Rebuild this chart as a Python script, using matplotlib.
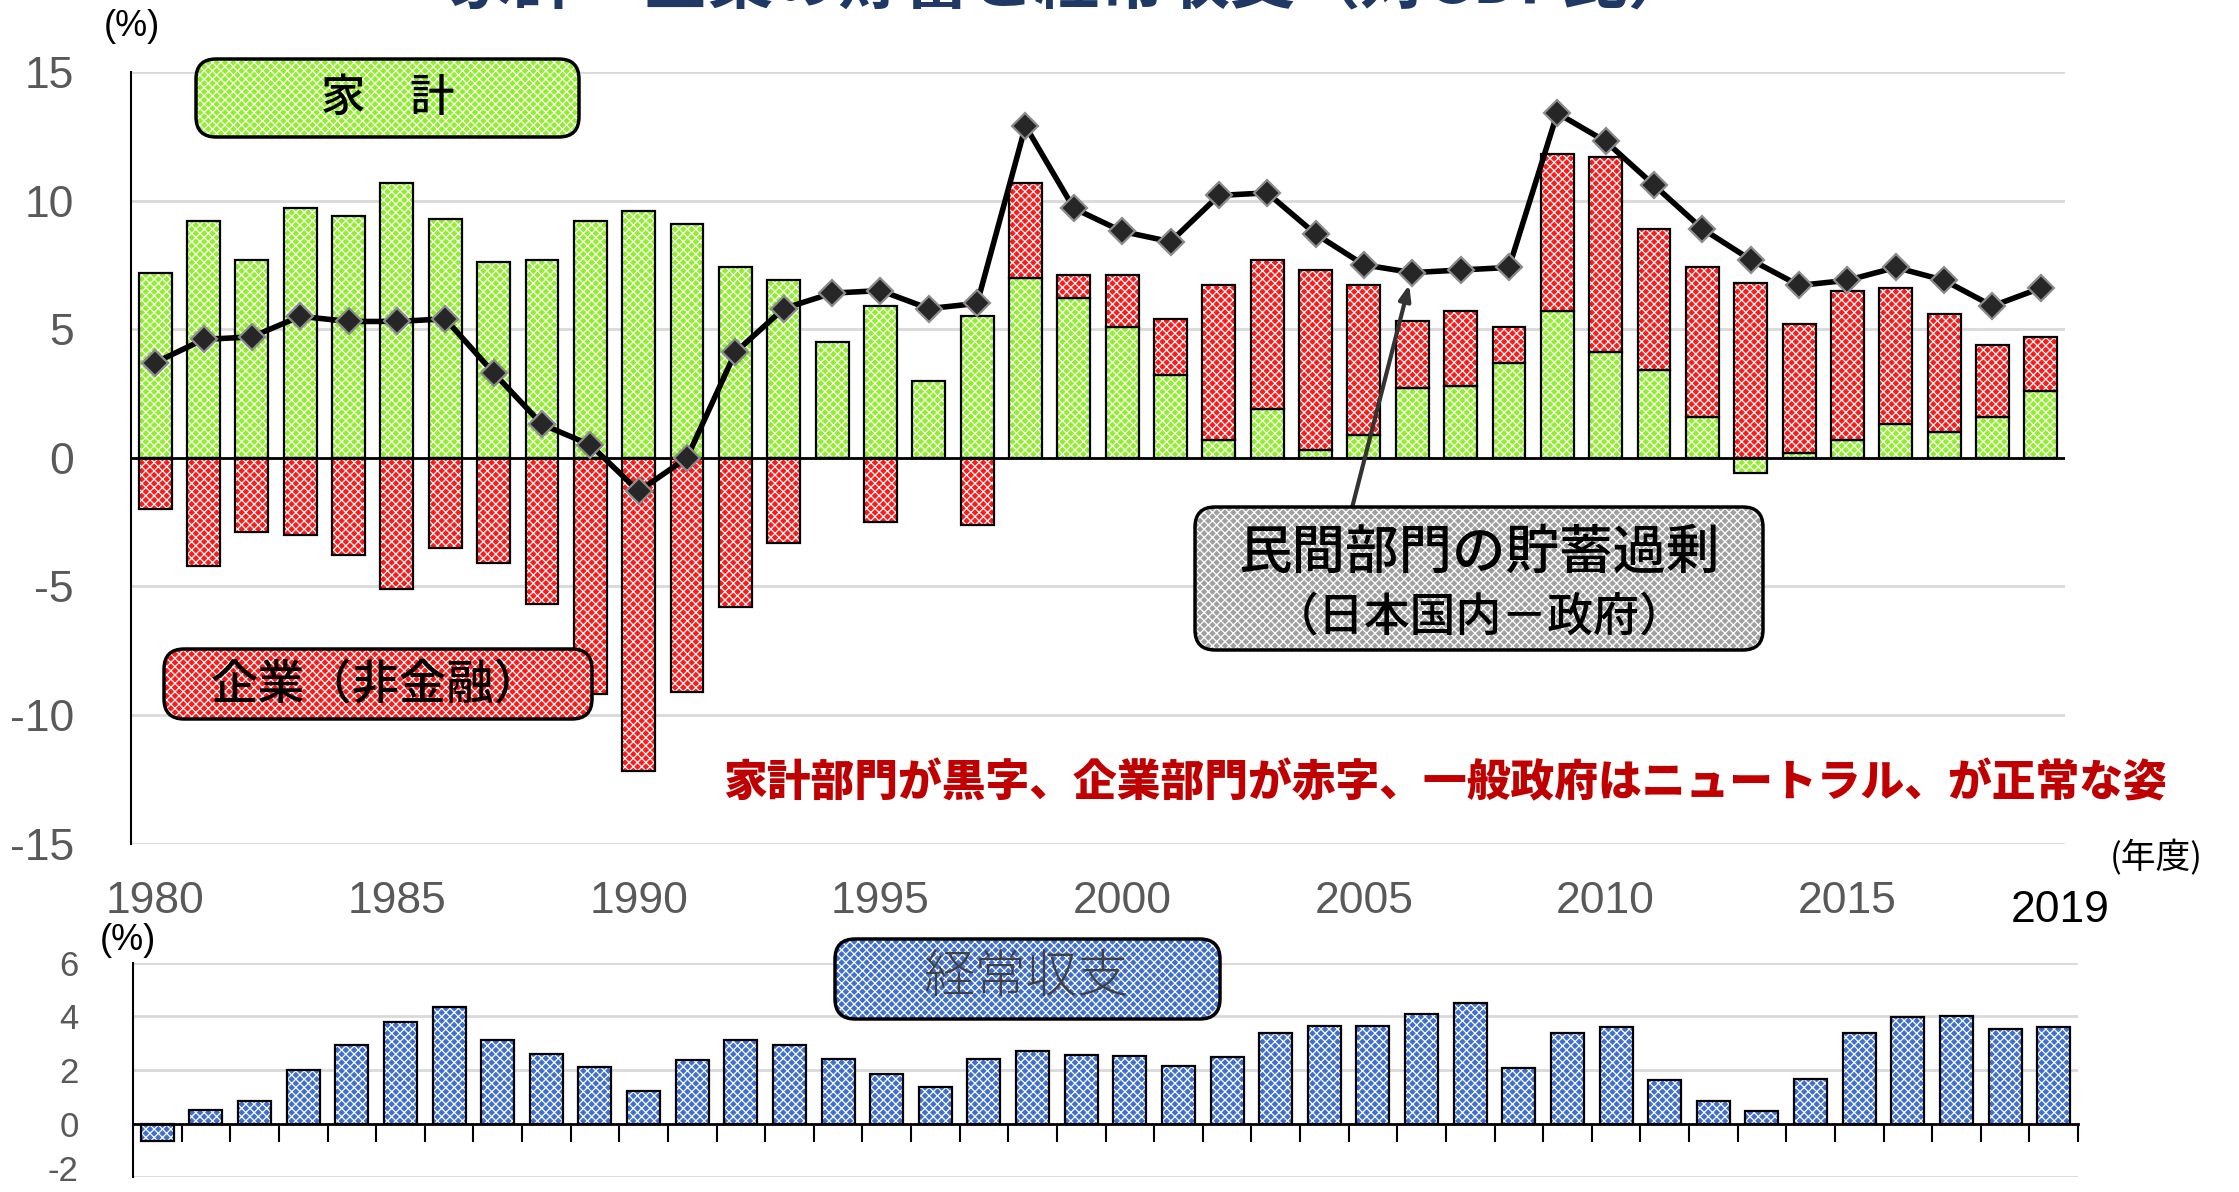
# Household / corporate saving surplus and current account (% of GDP), FY1980-2019
# Rebuilt from the reference picture.

import numpy as np
import matplotlib
matplotlib.use("Agg")
import matplotlib.pyplot as plt
from matplotlib.patches import FancyBboxPatch

# data
years = list(range(1980, 2020))
household = [7.2, 9.2, 7.7, 9.7, 9.4, 10.7, 9.3, 7.6, 7.7, 9.2,
             9.6, 9.1, 7.4, 6.9, 4.5, 5.9, 3.0, 5.5, 7.0, 6.2,
             5.1, 3.2, 0.7, 1.9, 0.3, 0.9, 2.7, 2.8, 3.7, 5.7,
             4.1, 3.4, 1.6, -0.6, 0.2, 0.7, 1.3, 1.0, 1.6, 2.6]
corporate = [-2.0, -4.2, -2.9, -3.0, -3.8, -5.1, -3.5, -4.1, -5.7, -9.2,
             -12.2, -9.1, -5.8, -3.3, 0.0, -2.5, 0.0, -2.6, 3.7, 0.9,
             2.0, 2.2, 6.0, 5.8, 7.0, 5.8, 2.6, 2.9, 1.4, 6.1,
             7.6, 5.5, 5.8, 6.8, 5.0, 5.8, 5.3, 4.6, 2.8, 2.1]
private_surplus = [3.7, 4.6, 4.7, 5.5, 5.3, 5.3, 5.4, 3.3, 1.3, 0.5,
                   -1.3, 0.0, 4.1, 5.8, 6.4, 6.5, 5.8, 6.0, 12.9, 9.7,
                   8.8, 8.4, 10.2, 10.3, 8.7, 7.5, 7.2, 7.3, 7.4, 13.4,
                   12.3, 10.6, 8.9, 7.7, 6.7, 6.9, 7.4, 6.9, 5.9, 6.6]
current_account = [-0.65, 0.52, 0.85, 2.0, 2.95, 3.8, 4.35, 3.13, 2.58, 2.12,
                   1.23, 2.39, 3.11, 2.95, 2.42, 1.84, 1.36, 2.42, 2.69, 2.57,
                   2.52, 2.15, 2.50, 3.39, 3.64, 3.64, 4.08, 4.51, 2.07, 3.37,
                   3.61, 1.63, 0.85, 0.47, 1.66, 3.39, 3.97, 4.02, 3.52, 3.59]
tick_years = [1980, 1985, 1990, 1995, 2000, 2005, 2010, 2015]
top_yticks = [-15, -10, -5, 0, 5, 10, 15]
bottom_yticks = [-2, 0, 2, 4, 6]

# colours
green = "#8FEF2A"
red = "#FF1A1A"
blue = "#3F6FCF"
grey_box = "#A0A0A0"
tick_grey = "#595959"
grid_grey = "#D9D9D9"

JP = ["Noto Sans CJK JP", "DejaVu Sans"]
NUM = ["Liberation Sans Narrow", "Liberation Sans", "DejaVu Sans"]

plt.rcParams["hatch.linewidth"] = 0.9
plt.rcParams["axes.unicode_minus"] = False

W, H = 2239, 1192
fig = plt.figure(figsize=(W / 100, H / 100), dpi=100)


def fx(px):
    return px / W


def fy(py):
    return 1 - py / H


def pattern_bar(ax, x, h, bottom, color, width=0.68):
    # dotted fill like the Excel pattern, then a black outline on top
    ax.bar(x, h, width, bottom=bottom, color=color, edgecolor="white",
           hatch="xxxx", linewidth=0, zorder=2)
    ax.bar(x, h, width, bottom=bottom, fill=False, edgecolor="black",
           linewidth=1.6, zorder=3)


def pattern_box(x0, y0, x1, y1, color):
    kw = dict(boxstyle="round,pad=0,rounding_size=0.009",
              mutation_aspect=W / H, transform=fig.transFigure)
    fill = FancyBboxPatch((fx(x0), fy(y1)), fx(x1) - fx(x0), fy(y0) - fy(y1),
                          facecolor=color, edgecolor="white", hatch="xxxx",
                          linewidth=0, zorder=6, **kw)
    edge = FancyBboxPatch((fx(x0), fy(y1)), fx(x1) - fx(x0), fy(y0) - fy(y1),
                          fill=False, edgecolor="black", linewidth=2.5,
                          zorder=6.5, **kw)
    fig.add_artist(fill)
    fig.add_artist(edge)


x = np.arange(len(years))
hh = np.array(household)
cc = np.array(corporate)
# stacked like Excel: same-sign values stack, opposite signs start at zero
red_bottom = np.where(np.sign(hh) == np.sign(cc), hh, 0.0)

# ---- top chart ----
ax1 = fig.add_axes([fx(131), fy(843.5), fx(2065) - fx(131), fy(72) - fy(843.5)])
pattern_bar(ax1, x, hh, 0, green)
pattern_bar(ax1, x, cc, red_bottom, red)
ax1.axhline(0, color="black", lw=2, zorder=4)
ax1.plot(x, private_surplus, color="black", lw=4, marker="D", ms=13.5,
         mfc="#262626", mec="#8C8C8C", mew=1.6, zorder=5)

ax1.set_xlim(-0.5, len(years) - 0.5)
ax1.set_ylim(-15, 15)
ax1.set_yticks(top_yticks)
ax1.grid(axis="y", color=grid_grey, lw=2)
ax1.set_axisbelow(True)
for s in ["top", "right", "bottom"]:
    ax1.spines[s].set_visible(False)
ax1.spines["left"].set_linewidth(1.5)
ax1.tick_params(axis="y", length=0, pad=41, labelsize=32, labelcolor=tick_grey)
ax1.set_xticks([years.index(t) for t in tick_years])
ax1.set_xticklabels([str(t) for t in tick_years])
ax1.tick_params(axis="x", length=0, pad=27, labelsize=32, labelcolor=tick_grey)
for lab in ax1.get_xticklabels() + ax1.get_yticklabels():
    lab.set_family(NUM)

# last year label in black, a bit to the right
ax1.text(len(years) - 1 + 0.4, -17.6, str(years[-1]), ha="center", va="center",
         fontsize=32, color="black", family=NUM, clip_on=False)

# arrow from the grey box to the 2006 point
i06 = years.index(2006)
ax1.annotate("", xy=(i06, private_surplus[i06]), xycoords="data",
             xytext=(fx(1352), fy(508)), textcoords="figure fraction",
             arrowprops=dict(arrowstyle="-|>,head_length=0.9,head_width=0.35",
                             color="#333333", lw=3, shrinkA=0, shrinkB=9),
             zorder=7)

# ---- bottom chart ----
ax2 = fig.add_axes([fx(133), fy(1177.3), fx(2078) - fx(133), fy(962.7) - fy(1177.3)])
pattern_bar(ax2, x, current_account, 0, blue)
ax2.set_xlim(-0.5, len(years) - 0.5)
ax2.set_ylim(-2, 6)
ax2.set_yticks(bottom_yticks)
ax2.set_yticklabels([""] + [str(v) for v in bottom_yticks[1:]])
ax2.grid(axis="y", color=grid_grey, lw=2)
ax2.set_axisbelow(True)
for s in ["top", "right"]:
    ax2.spines[s].set_visible(False)
ax2.spines["bottom"].set_position(("data", 0))
ax2.spines["bottom"].set_linewidth(2)
ax2.spines["bottom"].set_zorder(4)
ax2.spines["left"].set_linewidth(1.5)
ax2.set_xticks(x + 0.5)
ax2.set_xticklabels([])
ax2.tick_params(axis="x", direction="out", length=13, width=1.5, color="black")
ax2.tick_params(axis="y", length=0, pad=39, labelsize=25, labelcolor=tick_grey)
for lab in ax2.get_yticklabels():
    lab.set_family(NUM)
# lowest label nudged up a little so it stays inside the picture
ax2.annotate(str(bottom_yticks[0]), xy=(0, bottom_yticks[0]),
             xycoords=("axes fraction", "data"), xytext=(-39, 4),
             textcoords="offset points", ha="right", va="center",
             fontsize=25, color=tick_grey, family=NUM)

# ---- labels, boxes ----
fig.text(fx(132), fy(27), "(%)", ha="center", va="center", fontsize=26,
         color="black", family=NUM)
fig.text(fx(128), fy(941), "(%)", ha="center", va="center", fontsize=26,
         color="black", family=NUM)
fig.text(fx(2156), fy(858), "(年度)", ha="center", va="center", fontsize=25,
         color="black", family=JP)

pattern_box(196, 59, 579, 137, green)
fig.text(fx(388), fy(98), "家　計", ha="center", va="center", fontsize=32,
         color="black", family=JP, fontweight="medium", zorder=8)

pattern_box(164, 649, 592, 719, red)
fig.text(fx(376), fy(686), "企業（非金融）", ha="center", va="center", fontsize=34,
         color="black", family=JP, fontweight="medium", zorder=8)

pattern_box(1195, 507, 1763, 650, grey_box)
fig.text(fx(1479), fy(554), "民間部門の貯蓄過剰", ha="center", va="center",
         fontsize=38.5, color="black", family=JP, fontweight="medium", zorder=8)
fig.text(fx(1479), fy(617), "（日本国内－政府）", ha="center", va="center",
         fontsize=33, color="black", family=JP, fontweight="medium", zorder=8)

pattern_box(835, 939, 1220, 1019, blue)
fig.text(fx(1026), fy(978), "経常収支", ha="center", va="center", fontsize=37,
         color="#404040", family=JP, fontweight="light", zorder=8)

fig.text(fx(1445), fy(783), "家計部門が黒字、企業部門が赤字、一般政府はニュートラル、が正常な姿",
         ha="center", va="center", fontsize=31.5, color="#C00000", family=JP,
         fontweight="black", zorder=8)

# title, cut off by the top edge as in the picture
fig.text(fx(1071), fy(2), "家計・企業の貯蓄と経常収支（対GDP比）", ha="center",
         va="baseline", fontsize=47, color="#1F3864", family=JP,
         fontweight="bold")

fig.savefig("out.png", dpi=100)
